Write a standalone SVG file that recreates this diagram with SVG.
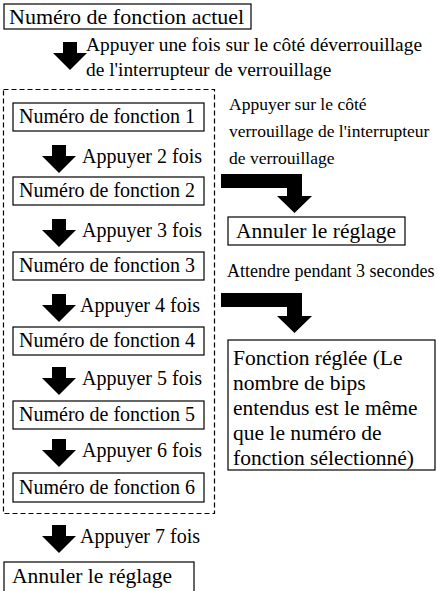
<svg xmlns="http://www.w3.org/2000/svg" width="438" height="591" viewBox="0 0 438 591">
<style>
  .box { fill: #fff; stroke: #000; stroke-width: 1.2; }
  .t { font-family: "Liberation Serif", "Times New Roman", serif; fill: #000; }
  .bt { font-size: 20px; }
  .lb { font-size: 20px; }
  .rl { font-size: 17.5px; }
  .arr { fill: #000; }
  .dash { fill: none; stroke: #000; stroke-width: 1.2; stroke-dasharray: 5 3; }
</style>
<defs>
  <path id="dn" d="M-7,-28 h14 v11 h10 l-17,17 l-17,-17 h10 z"/>
</defs>
<rect width="438" height="591" fill="#fff"/>

<g id="connectors">
  <use href="#dn" class="arr" x="70" y="70"/>
  <use href="#dn" class="arr" x="59" y="173"/>
  <use href="#dn" class="arr" x="59" y="247"/>
  <use href="#dn" class="arr" x="59" y="322"/>
  <use href="#dn" class="arr" x="59" y="395"/>
  <use href="#dn" class="arr" x="59" y="467"/>
  <use href="#dn" class="arr" x="59" y="553"/>
  <path class="arr" d="M221,174 H302 V196 H312 L294.5,213 L277,196 H287 V188 H221 Z"/>
  <path class="arr" d="M221,293 H302 V316 H312 L294.5,333 L277,316 H287 V307 H221 Z"/>
</g>

<g id="labels">
  <text class="t" x="86" y="51" style="font-size:19.4px">Appuyer une fois sur le côté déverrouillage</text>
  <text class="t" x="86" y="76" style="font-size:19.4px">de l'interrupteur de verrouillage</text>
  <text class="t lb" x="82" y="163">Appuyer 2 fois</text>
  <text class="t lb" x="82" y="237">Appuyer 3 fois</text>
  <text class="t lb" x="80" y="312">Appuyer 4 fois</text>
  <text class="t lb" x="82" y="385">Appuyer 5 fois</text>
  <text class="t lb" x="82" y="457">Appuyer 6 fois</text>
  <text class="t lb" x="80" y="543">Appuyer 7 fois</text>
  <text class="t rl" x="229" y="110">Appuyer sur le côté</text>
  <text class="t rl" x="229" y="137">verrouillage de l'interrupteur</text>
  <text class="t rl" x="229" y="164">de verrouillage</text>
  <text class="t" x="227" y="277" style="font-size:18px">Attendre pendant 3 secondes</text>
</g>

<g id="group-functions">
  <rect class="dash" x="3.5" y="89.5" width="211" height="424"/>
</g>

<g id="node-current">
  <rect class="box" x="4" y="4" width="247" height="25"/>
  <text class="t" x="9" y="24" style="font-size:22px">Numéro de fonction actuel</text>
</g>
<g id="node-f1">
  <rect class="box" x="13" y="103" width="191" height="28"/>
  <text class="t bt" x="19" y="123">Numéro de fonction 1</text>
</g>
<g id="node-f2">
  <rect class="box" x="13" y="177" width="191" height="28"/>
  <text class="t bt" x="19" y="197">Numéro de fonction 2</text>
</g>
<g id="node-f3">
  <rect class="box" x="13" y="252" width="191" height="28"/>
  <text class="t bt" x="19" y="272">Numéro de fonction 3</text>
</g>
<g id="node-f4">
  <rect class="box" x="13" y="327" width="191" height="28"/>
  <text class="t bt" x="19" y="347">Numéro de fonction 4</text>
</g>
<g id="node-f5">
  <rect class="box" x="13" y="401" width="191" height="28"/>
  <text class="t bt" x="19" y="421">Numéro de fonction 5</text>
</g>
<g id="node-f6">
  <rect class="box" x="13" y="473" width="191" height="29"/>
  <text class="t bt" x="19" y="494">Numéro de fonction 6</text>
</g>
<g id="node-cancel-right">
  <rect class="box" x="228" y="217" width="177" height="28"/>
  <text class="t" x="236" y="238" style="font-size:21.5px">Annuler le réglage</text>
</g>
<g id="node-set">
  <rect class="box" x="228" y="340" width="207" height="130"/>
  <text class="t" x="233" y="365" style="font-size:21.5px">Fonction réglée (Le</text>
  <text class="t" x="233" y="390" style="font-size:21.5px">nombre de bips</text>
  <text class="t" x="233" y="415" style="font-size:21.5px">entendus est le même</text>
  <text class="t" x="233" y="440" style="font-size:21.5px">que le numéro de</text>
  <text class="t" x="233" y="465" style="font-size:21.5px">fonction sélectionné)</text>
</g>
<g id="node-cancel-bottom">
  <rect class="box" x="4" y="562" width="190" height="34"/>
  <text class="t" x="12" y="583" style="font-size:21.5px">Annuler le réglage</text>
</g>
</svg>
